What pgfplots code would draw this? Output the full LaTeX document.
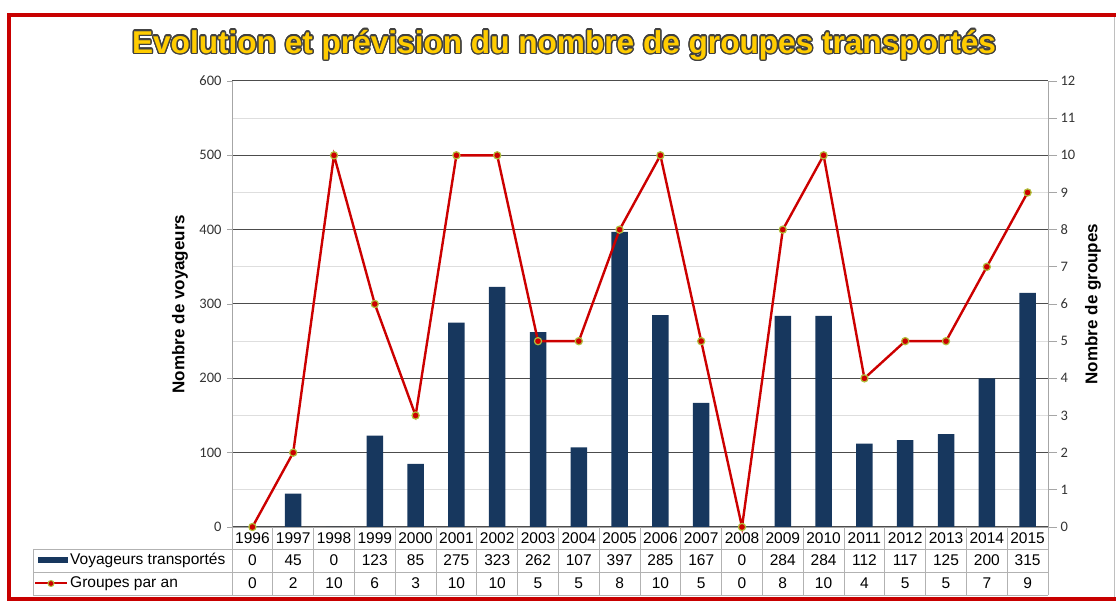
\documentclass[border=0pt]{standalone}
\usepackage{fontspec}
\setmainfont{Liberation Sans}
\newfontfamily\tickfont{Carlito}
\usepackage{pgfplots}
\usepackage{pgfplotstable}
\pgfplotsset{compat=1.18}
\definecolor{barblue}{RGB}{23,55,94}
\definecolor{linered}{RGB}{204,0,0}
\definecolor{markedge}{RGB}{176,190,60}
\definecolor{titlegold}{RGB}{255,204,0}
\definecolor{framered}{RGB}{200,0,0}

% one row per year: index, year, passengers, groups
\pgfplotstableread{
idx year voy grp
0  1996 0   0
1  1997 45  2
2  1998 0   10
3  1999 123 6
4  2000 85  3
5  2001 275 10
6  2002 323 10
7  2003 262 5
8  2004 107 5
9  2005 397 8
10 2006 285 10
11 2007 167 5
12 2008 0   0
13 2009 284 8
14 2010 284 10
15 2011 112 4
16 2012 117 5
17 2013 125 5
18 2014 200 7
19 2015 315 9
}\data

\newcommand{\titletext}{Evolution et prévision du nombre de groupes transportés}

\begin{document}
\begin{tikzpicture}
\path[use as bounding box] (0pt,0pt) rectangle (1116pt,602pt);
% frame
\draw[framered, line width=4pt] (1116pt,587pt) -- (9pt,587pt) -- (9pt,3pt) -- (1116pt,3pt);
\draw[black!25, line width=1pt] (1114pt,5pt) -- (1114pt,585pt);

% title with outline
\foreach \a in {0,22.5,...,337.5}
  \node[text=black!75, font=\bfseries\fontsize{31.6}{36}\selectfont] at ([shift={(\a:1.4pt)}]564pt,557pt) {\titletext};
\node[text=titlegold, font=\bfseries\fontsize{31.6}{36}\selectfont] at (564pt,557pt) {\titletext};

\begin{axis}[
  at={(232pt,75pt)}, anchor=south west,
  scale only axis, width=816pt, height=446pt,
  xmin=-0.5, xmax=19.5, ymin=0, ymax=600,
  xtick=\empty,
  ytick={0,100,...,600},
  minor ytick={50,150,...,550},
  ymajorgrids, yminorgrids,
  major grid style={black!70, line width=1pt},
  minor grid style={black!13, line width=0.8pt},
  axis x line*=bottom, axis y line*=left,
  axis line style={black!35, line width=0.8pt, -},
  tick style={black!35, line width=0.8pt},
  major tick length=5pt, minor tick length=0pt,
  tick align=outside,
  /pgf/number format/assume math mode=true,
  tick label style={font=\tickfont\fontsize{14.5}{16}\selectfont, text=black!80},
  yticklabel style={xshift=-2pt},
  ylabel={Nombre de voyageurs},
  ylabel style={at={(axis description cs:-0.0637,0.5)}, anchor=center,
    font=\bfseries\fontsize{17}{20}\selectfont},
]
\addplot[ybar, bar width=16.5pt, bar shift=0pt, fill=barblue, draw=none]
  table[x=idx, y=voy] {\data};
\end{axis}

\begin{axis}[
  at={(232pt,75pt)}, anchor=south west,
  scale only axis, width=816pt, height=446pt,
  xmin=-0.5, xmax=19.5, ymin=0, ymax=12,
  axis x line=none, axis y line*=right,
  ytick={0,...,12},
  axis line style={black!35, line width=0.8pt, -},
  tick style={black!35, line width=0.8pt},
  major tick length=9pt, tick align=outside,
  clip=false,
  /pgf/number format/assume math mode=true,
  tick label style={font=\tickfont\fontsize{14.5}{16}\selectfont, text=black!80},
  ylabel={Nombre de groupes},
  ylabel style={at={(axis description cs:1.0551,0.5)}, anchor=center,
    font=\bfseries\fontsize{17}{20}\selectfont},
]
\addplot[linered, line width=2.4pt, mark=*, mark size=3.6pt,
  mark options={fill=linered, draw=markedge, line width=1.2pt}]
  table[x=idx, y=grp] {\data};
\end{axis}

% data table under the chart
\begin{scope}[black!30, line width=0.8pt]
  \draw (33pt,53pt) -- (1048pt,53pt);
  \draw (33pt,30pt) -- (1048pt,30pt);
  \draw (33pt,7pt) -- (1048pt,7pt);
  \draw (33pt,53pt) -- (33pt,7pt);
  \foreach \k in {0,...,20}
    \draw ({232pt+40.8pt*\k},75pt) -- ({232pt+40.8pt*\k},7pt);
\end{scope}
\fill[barblue] (38pt,39pt) rectangle (68pt,45pt);
\node[anchor=west, inner sep=1pt, font=\fontsize{15.5}{18}\selectfont] at (69pt,41.5pt) {Voyageurs transportés};
\draw[linered, line width=2pt] (35pt,18.5pt) -- (67pt,18.5pt);
\filldraw[fill=linered, draw=markedge, line width=1pt] (51pt,18.5pt) circle (3pt);
\node[anchor=west, inner sep=1pt, font=\fontsize{15.5}{18}\selectfont] at (69pt,18.5pt) {Groupes par an};
\foreach \i in {0,...,19} {
  \pgfplotstablegetelem{\i}{year}\of\data \edef\yr{\pgfplotsretval}
  \pgfplotstablegetelem{\i}{voy}\of\data \edef\vv{\pgfplotsretval}
  \pgfplotstablegetelem{\i}{grp}\of\data \edef\gg{\pgfplotsretval}
  \node[font=\fontsize{15.5}{18}\selectfont] at ({252.4pt+40.8pt*\i},64pt) {\yr};
  \node[font=\fontsize{15.5}{18}\selectfont] at ({252.4pt+40.8pt*\i},41.5pt) {\vv};
  \node[font=\fontsize{15.5}{18}\selectfont] at ({252.4pt+40.8pt*\i},18.5pt) {\gg};
}
\end{tikzpicture}
\end{document}
